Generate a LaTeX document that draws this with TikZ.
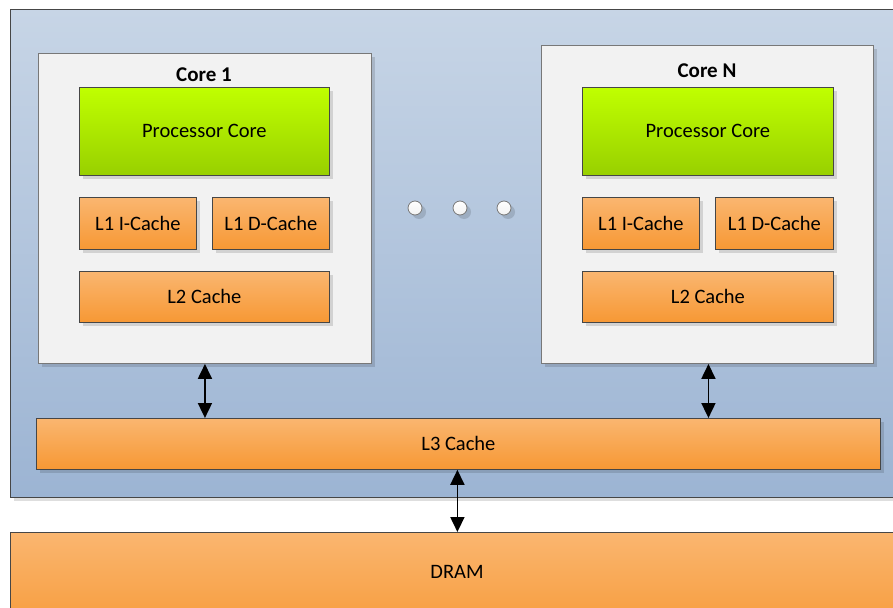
\documentclass[tikz,border=0pt]{standalone}
\usepackage{fontspec}
\setmainfont{Carlito}
\usetikzlibrary{arrows.meta,shadows}
\definecolor{bluetop}{RGB}{199,213,230}
\definecolor{bluebot}{RGB}{156,180,211}
\definecolor{orgtop}{RGB}{250,182,112}
\definecolor{orgbot}{RGB}{247,152,52}
\definecolor{grntop}{RGB}{192,255,0}
\definecolor{grnbot}{RGB}{152,208,0}
\definecolor{corefill}{RGB}{242,242,242}
\definecolor{edge}{RGB}{70,70,70}
\definecolor{coreedge}{RGB}{120,120,120}
\tikzset{
  shad/.style={drop shadow={shadow xshift=4pt,shadow yshift=-4pt,fill=black,opacity=0.13}},
  base/.style={anchor=north west,inner sep=0pt,font=\fontsize{20.5}{24}\selectfont,text=black},
  sysbox/.style={base,draw=edge,line width=0.9pt,top color=bluetop,bottom color=bluebot,shad},
  corebox/.style={base,draw=coreedge,line width=0.9pt,fill=corefill,shad},
  procbox/.style={base,draw=edge,line width=0.8pt,top color=grntop,bottom color=grnbot,shad},
  cachebox/.style={base,draw=edge,line width=0.8pt,top color=orgtop,bottom color=orgbot,shad},
  title/.style={font=\bfseries\fontsize{21}{24}\selectfont,text=black,inner sep=0pt},
  dot/.style={circle,draw=coreedge,line width=0.8pt,top color=white,bottom color=corefill,minimum size=14pt,inner sep=0pt,shad},
  arr/.style={{Triangle[length=15pt,width=14pt]}-{Triangle[length=15pt,width=14pt]},line width=1.8pt,black}
}
\begin{document}
\begin{tikzpicture}[x=1pt,y=-1pt]
\clip (0,0) rectangle (893,607);
\fill[white] (0,0) rectangle (893,607);
% system box
\node[sysbox,minimum width=920pt,minimum height=488pt] (sys) at (10,9) {};
% cores
\node[corebox,minimum width=333pt,minimum height=310pt] (core1) at (38,53) {};
\node[corebox,minimum width=332pt,minimum height=318pt] (coreN) at (541,45) {};
\node[title] (t1) at (204,75) {Core 1};
\node[title] (tN) at (707,71) {Core N};
% core 1 contents
\node[procbox,minimum width=250pt,minimum height=88pt] (p1) at (79,87) {Processor Core};
\node[cachebox,minimum width=117pt,minimum height=52pt] (i1) at (79,197) {L1 I-Cache};
\node[cachebox,minimum width=117pt,minimum height=52pt] (d1) at (212,197) {L1 D-Cache};
\node[cachebox,minimum width=250pt,minimum height=51pt] (l21) at (79,271) {L2 Cache};
% core N contents
\node[procbox,minimum width=251pt,minimum height=88pt] (pN) at (582,87) {Processor Core};
\node[cachebox,minimum width=117pt,minimum height=52pt] (iN) at (582,197) {L1 I-Cache};
\node[cachebox,minimum width=118pt,minimum height=52pt] (dN) at (715,197) {L1 D-Cache};
\node[cachebox,minimum width=251pt,minimum height=51pt] (l2N) at (582,271) {L2 Cache};
% dots
\node[dot] (dotA) at (415,208) {};
\node[dot] (dotB) at (460,208) {};
\node[dot] (dotC) at (504,208) {};
% L3 and DRAM
\node[cachebox,minimum width=844pt,minimum height=51pt] (l3) at (36,418) {L3 Cache};
\node[cachebox,minimum width=900pt,minimum height=110pt,draw=edge] (dram) at (10,532) {};
\node[font=\fontsize{20.5}{24}\selectfont,inner sep=0pt] (dramlbl) at (457,572) {DRAM};
% arrows
\draw[arr] (core1.south) -- (core1.south |- l3.north);
\draw[arr] ([xshift=1pt]coreN.south) -- ([xshift=1pt]coreN.south |- l3.north);
\draw[arr] ([xshift=-1pt]l3.south) -- ([xshift=-1pt]l3.south |- dram.north);
\end{tikzpicture}
\end{document}
